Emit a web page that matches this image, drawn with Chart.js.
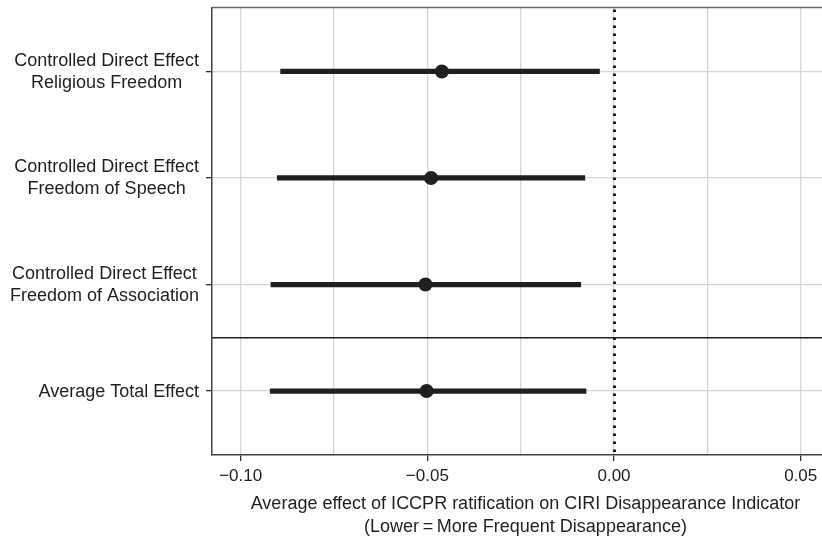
<!DOCTYPE html>
<html>
<head>
<meta charset="utf-8">
<script src="https://cdn.jsdelivr.net/npm/chart.js@4/dist/chart.umd.min.js"></script>
<style>
  html, body { margin: 0; padding: 0; background: #fff; }
  #wrap { width: 822px; height: 539px; }
</style>
</head>
<body>
<div id="wrap"><canvas id="chart"></canvas></div>
<script>
// Rows, top to bottom
var rowLabels = [
    ['Controlled Direct Effect', 'Religious Freedom'],
    ['Controlled Direct Effect', 'Freedom of Speech'],
    ['Controlled Direct Effect', 'Freedom of Association'],
    ['Average Total Effect']
];
var rowPos = [1, 2, 3, 4];
var estimates = [-0.0461, -0.0490, -0.0505, -0.0502];
var lower = [-0.0893, -0.0902, -0.0919, -0.0921];
var upper = [-0.0039, -0.0078, -0.0089, -0.0075];

var xTicks = [-0.1, -0.075, -0.05, -0.025, 0, 0.025, 0.05];
var xTickLabels = ['\u22120.10', '', '\u22120.05', '', '0.00', '', '0.05'];
var xTitle = ['Average effect of ICCPR ratification on CIRI Disappearance Indicator',
              '(Lower\u2009=\u2009More Frequent Disappearance)'];

var FONT = "'Liberation Sans', Arial, Helvetica, sans-serif";
var INK = '#1f1f1f';

var intervals = rowPos.map(function (p, i) { return { y: p, x: [lower[i], upper[i]] }; });
var points = rowPos.map(function (p, i) { return { x: estimates[i], y: p }; });

// panel border, zero line, separator, row labels and axis title
var extras = {
    id: 'extras',
    beforeDatasetsDraw: function (chart) {
        var ctx = chart.ctx, a = chart.chartArea;
        var xs = chart.scales.x, ys = chart.scales.y;
        ctx.save();
        // dotted reference line at zero
        var x0 = Math.round(xs.getPixelForValue(0)) + 0.5;
        ctx.strokeStyle = '#000';
        ctx.lineWidth = 2.6;
        ctx.setLineDash([2.6, 5.4]);
        ctx.beginPath();
        ctx.moveTo(x0, a.top + 2);
        ctx.lineTo(x0, a.bottom);
        ctx.stroke();
        ctx.setLineDash([]);
        // separator between direct effects and total effect
        var ys35 = ys.getPixelForValue(3.5);
        ctx.strokeStyle = '#222';
        ctx.lineWidth = 1.5;
        ctx.beginPath();
        ctx.moveTo(a.left, ys35);
        ctx.lineTo(a.right, ys35);
        ctx.stroke();
        // top border
        ctx.strokeStyle = '#6a6a6a';
        ctx.lineWidth = 1.5;
        ctx.beginPath();
        ctx.moveTo(a.left, a.top);
        ctx.lineTo(a.right, a.top);
        ctx.stroke();
        ctx.restore();
    },
    afterDraw: function (chart) {
        var ctx = chart.ctx, ys = chart.scales.y, a = chart.chartArea;
        var right = 199, lh = 22;
        ctx.save();
        ctx.font = '18px ' + FONT;
        ctx.fillStyle = INK;
        ctx.textBaseline = 'middle';
        ctx.textAlign = 'center';
        rowLabels.forEach(function (lines, i) {
            var yc = ys.getPixelForValue(rowPos[i]) + 0.5;
            var w = Math.max.apply(null, lines.map(function (l) { return ctx.measureText(l).width; }));
            var cx = right - w / 2;
            var y = yc - (lines.length - 1) * lh / 2;
            lines.forEach(function (l, k) {
                ctx.fillText(l, cx, y + k * lh);
            });
        });
        // x title: the original panel runs a little past the crop, so its centre sits right of ours
        var tx = (a.left + a.right) / 2 + 8.5;
        ctx.fillText(xTitle[0], tx, a.bottom + 49);
        ctx.fillText(xTitle[1], tx, a.bottom + 72.5);
        ctx.restore();
    }
};

new Chart(document.getElementById('chart'), {
    type: 'bar',
    data: {
        datasets: [{
            type: 'bar',
            indexAxis: 'y',
            data: intervals,
            backgroundColor: INK,
            borderWidth: 0,
            barThickness: 4.6,
            order: 2
        }, {
            type: 'scatter',
            data: points,
            backgroundColor: INK,
            borderWidth: 0,
            pointRadius: 7,
            order: 1
        }]
    },
    plugins: [extras],
    options: {
        responsive: true,
        maintainAspectRatio: false,
        animation: false,
        layout: { autoPadding: false, padding: { top: 7.5, right: 0, bottom: 0, left: 0 } },
        plugins: { legend: { display: false }, tooltip: { enabled: false } },
        scales: {
            x: {
                type: 'linear',
                min: -0.10768,
                max: 0.05571,
                offset: false,
                beginAtZero: false,
                afterBuildTicks: function (scale) {
                    scale.ticks = xTicks.map(function (v) { return { value: v }; });
                },
                afterFit: function (scale) {
                    scale.height = 84;
                    scale.paddingLeft = 0;
                    scale.paddingRight = 0;
                },
                ticks: {
                    autoSkip: false,
                    maxRotation: 0,
                    padding: 5,
                    color: INK,
                    font: { family: FONT, size: 17 },
                    callback: function (v, i) { return xTickLabels[i]; }
                },
                grid: {
                    offset: false,
                    color: '#d6d6d6',
                    lineWidth: 1.3,
                    tickLength: 6,
                    tickWidth: 1.3,
                    tickColor: function (c) {
                        return (c.tick && xTickLabels[c.index]) ? '#333' : 'rgba(0,0,0,0)';
                    }
                },
                border: { display: true, color: '#444', width: 1.5 },
                title: { display: false }
            },
            y: {
                type: 'linear',
                reverse: true,
                min: 0.4,
                max: 4.6,
                offset: false,
                afterBuildTicks: function (scale) {
                    scale.ticks = rowPos.map(function (v) { return { value: v }; });
                },
                afterFit: function (scale) { scale.width = 212; },
                ticks: { display: false },
                grid: {
                    offset: false,
                    color: '#d6d6d6',
                    lineWidth: 1.3,
                    tickLength: 6,
                    tickWidth: 1.3,
                    tickColor: '#333'
                },
                border: { display: true, color: '#444', width: 1.5 }
            }
        }
    }
});
</script>
</body>
</html>
